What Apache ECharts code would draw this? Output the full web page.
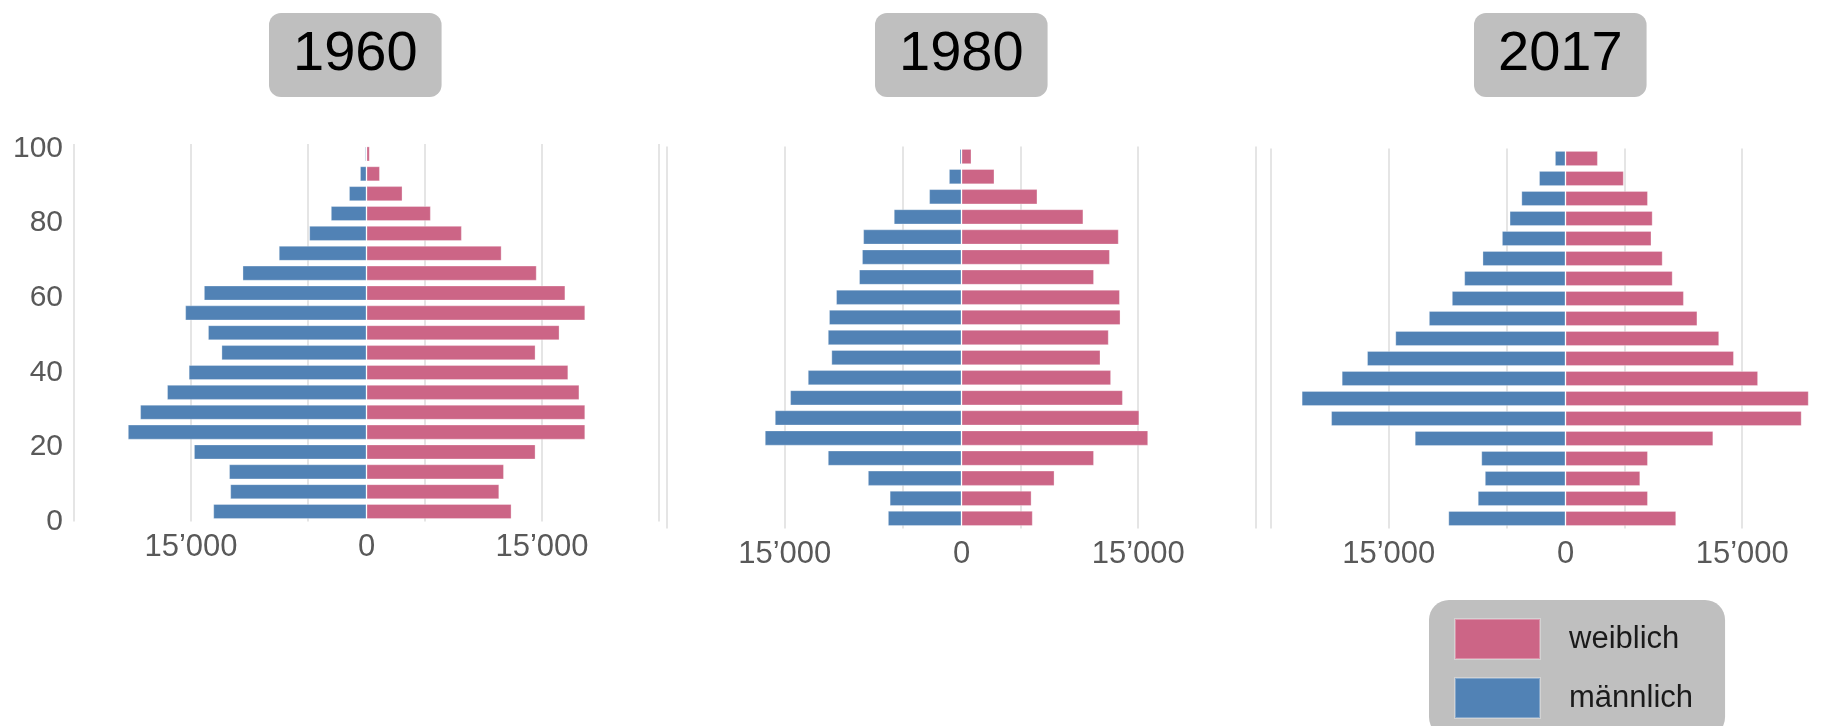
<!DOCTYPE html>
<html>
<head>
<meta charset="utf-8">
<title>Bevölkerungspyramiden 1960 / 1980 / 2017</title>
<script src="https://cdn.jsdelivr.net/npm/echarts@6/dist/echarts.min.js"></script>
<style>
    html, body { margin: 0; padding: 0; background: #ffffff; }
    #pyramide { width: 1848px; height: 726px; }
</style>
</head>
<body>
<div id="pyramide"></div>
<script>
    // Altersklassen in 5er-Schritten, von unten (0) nach oben (90+)
    var ages = ['0', '5', '10', '15', '20', '25', '30', '35', '40', '45',
                '50', '55', '60', '65', '70', '75', '80', '85', '90'];
    var years = ['1960', '1980', '2017'];

    // Personen je Altersklasse
    var maenner1960 = [13100, 11650, 11750, 14750, 20400, 19350, 17050, 15200, 12400, 13550,
                       15500, 13900, 10600, 7500, 4900, 3050, 1500, 560, 120];
    var frauen1960  = [12400, 11350, 11750, 14450, 18700, 18700, 18200, 17250, 14450, 16500,
                       18700, 17000, 14550, 11550, 8150, 5500, 3080, 1150, 280];

    var maenner1980 = [6250, 6100, 7950, 11350, 16700, 15850, 14550, 13050, 11050, 11350,
                       11250, 10650, 8700, 8450, 8350, 5750, 2750, 1070, 170];
    var frauen1980  = [6050, 5950, 7900, 11250, 15850, 15100, 13700, 12700, 11800, 12500,
                       13500, 13450, 11250, 12600, 13350, 10350, 6450, 2800, 850];

    var maenner2017 = [9950, 7450, 6850, 7150, 12800, 19900, 22400, 19000, 16850, 14450,
                       11600, 9650, 8600, 7050, 5400, 4750, 3750, 2250, 900];
    var frauen2017  = [9400, 7000, 6350, 7000, 12550, 20050, 20650, 16350, 14300, 13050,
                       11200, 10050, 9100, 8250, 7300, 7400, 7000, 4950, 2750];

    // beschriftete Werte auf der x-Achse
    var xTickLabels = [-15000, 0, 15000];

    var maenner = [maenner1960, maenner1980, maenner2017];
    var frauen = [frauen1960, frauen1980, frauen2017];

    var PINK = '#cc6586';
    var BLAU = '#5182b5';
    var GRAU = '#595959';
    var FONT = '"Liberation Sans", Arial, sans-serif';

    function tausender(v) {
        return String(Math.abs(v)).replace(/\B(?=(\d{3})+(?!\d))/g, '\u2019');
    }

    var myChart = echarts.init(document.getElementById('pyramide'));

    // outerBoundsMode none: das rechte Panel darf über den Rand hinausgehen
    var grids = [
        {left: 74, width: 585, top: 144, height: 377.5, containLabel: false, outerBoundsMode: 'none'},
        {left: 667, width: 589, top: 146.5, height: 382, containLabel: false, outerBoundsMode: 'none'},
        {left: 1271, width: 589, top: 148.5, height: 380, containLabel: false, outerBoundsMode: 'none'},
        // nur für die Altersbeschriftung links
        {left: 74, width: 10, top: 148.5, height: 373, containLabel: false, outerBoundsMode: 'none'}
    ];

    var xAxes = [];
    var yAxes = [];
    var series = [];
    var titles = [];
    var titleLeft = [269, 875, 1474];

    for (var i = 0; i < 3; i++) {
        // Achse für die Balken, mit Beschriftung
        xAxes.push({
            type: 'value', gridIndex: i, position: 'bottom',
            min: -25000, max: 25000, interval: 5000,
            axisLine: {show: false}, axisTick: {show: false},
            splitLine: {show: false},
            axisLabel: {
                color: GRAU, fontSize: 31, fontFamily: FONT, margin: 10,
                formatter: function (v) {
                    if (xTickLabels.indexOf(v) < 0) return '';
                    return v === 0 ? '0' : tausender(v);
                }
            }
        });
        // Hilfsachse nur für die Gitterlinien (bei ±5000, ±15000, ±25000)
        xAxes.push({
            type: 'value', gridIndex: i, position: 'bottom',
            min: 0, max: 50000, interval: 10000,
            axisLine: {show: false}, axisTick: {show: false},
            axisLabel: {show: false},
            splitLine: {show: true, lineStyle: {color: '#dcdcdc', width: 1.5}}
        });
        yAxes.push({
            type: 'category', gridIndex: i, data: ages, show: false
        });

        series.push({
            name: 'weiblich', type: 'bar',
            xAxisIndex: 2 * i, yAxisIndex: i,
            data: frauen[i],
            barGap: '-100%', barCategoryGap: '24%',
            itemStyle: {color: PINK, borderColor: 'rgba(255,255,255,0.3)', borderWidth: 1}
        });
        series.push({
            name: 'männlich', type: 'bar',
            xAxisIndex: 2 * i, yAxisIndex: i,
            data: maenner[i].map(function (v) { return -v; }),
            barGap: '-100%', barCategoryGap: '24%',
            itemStyle: {color: BLAU, borderColor: 'rgba(255,255,255,0.3)', borderWidth: 1}
        });

        titles.push({
            text: years[i],
            left: titleLeft[i], top: 13,
            padding: [14, 24],
            backgroundColor: '#bfbfbf',
            borderRadius: 12,
            textStyle: {color: '#000000', fontSize: 56, fontWeight: 'normal', fontFamily: FONT, lineHeight: 56}
        });
    }

    // Altersachse 0 - 100
    xAxes.push({type: 'value', gridIndex: 3, min: 0, max: 1, show: false});
    yAxes.push({
        type: 'value', gridIndex: 3, min: 0, max: 100, interval: 20,
        axisLine: {show: false}, axisTick: {show: false}, splitLine: {show: false},
        axisLabel: {color: GRAU, fontSize: 30, fontFamily: FONT, margin: 11}
    });

    var option = {
        animation: false,
        title: titles,
        grid: grids,
        xAxis: xAxes,
        yAxis: yAxes,
        legend: {
            data: ['weiblich', 'männlich'],
            orient: 'vertical',
            left: 1429, top: 600,
            width: 300, height: 200,
            icon: 'rect',
            itemWidth: 85, itemHeight: 40, itemGap: 17,
            padding: [18, 32, 18, 25],
            backgroundColor: '#bfbfbf',
            borderRadius: 20,
            textStyle: {color: '#1a1a1a', fontSize: 31, fontFamily: FONT, padding: [0, 0, 0, 24]}
        },
        series: series
    };

    myChart.setOption(option);
</script>
</body>
</html>
